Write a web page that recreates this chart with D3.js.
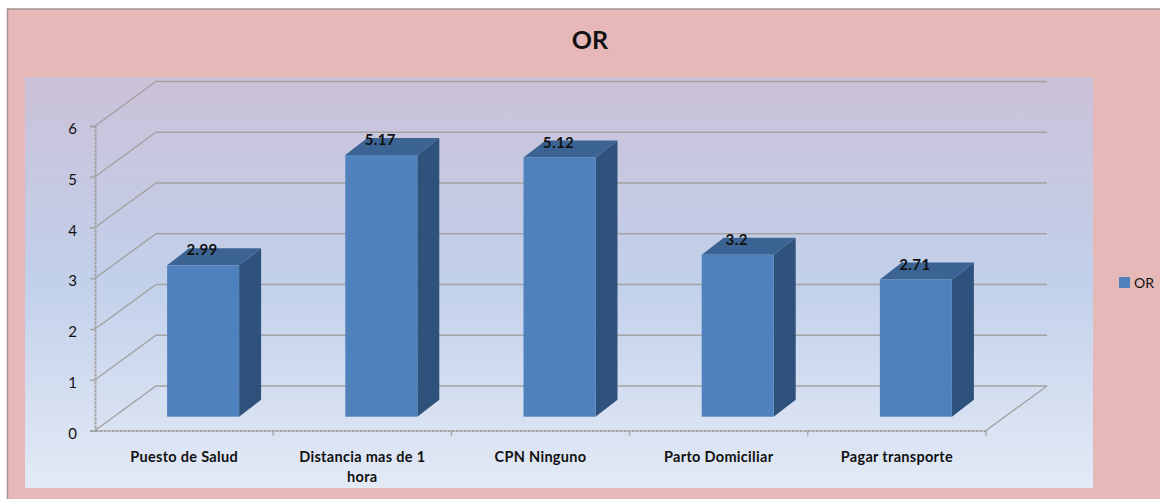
<!DOCTYPE html>
<html><head><meta charset="utf-8">
<script src="https://cdn.jsdelivr.net/npm/d3@7"></script>
<style>html,body{margin:0;padding:0;background:#fff}svg{display:block}text{font-family:Lato,Carlito,"Open Sans",sans-serif;fill:#111}</style>
</head><body><svg id="c" width="1160" height="499"></svg>
<script>
const categories = ["Puesto de Salud","Distancia mas de 1 hora","CPN Ninguno","Parto Domiciliar","Pagar transporte"];
const values = [2.99,5.17,5.12,3.2,2.71];
const valueLabels = ["2.99","5.17","5.12","3.2","2.71"];
const yTicks = [0,1,2,3,4,5,6];
const seriesName = "OR";

const svg = d3.select("#c");
const defs = svg.append("defs");
const g = defs.append("linearGradient").attr("id","bg").attr("x1",0).attr("x2",0).attr("y1",0).attr("y2",1);
[[0,"#cbc1d9"],[0.5,"#c2d0ea"],[1,"#e3eaf6"]].forEach(d=>g.append("stop").attr("offset",d[0]).attr("stop-color",d[1]));

svg.append("rect").attr("x",7.5).attr("y",9).attr("width",1160).attr("height",500).attr("fill","#e6b8b7").attr("stroke","#a39291").attr("stroke-width",1.5);
svg.append("rect").attr("x",25).attr("y",77).attr("width",1068).attr("height",411).attr("fill","url(#bg)");
svg.append("text").attr("x",590).attr("y",49).attr("text-anchor","middle").attr("font-size",25).attr("font-weight",700).text("OR");

const x = d3.scaleBand().domain(categories).range([95,986]);
const y = d3.scaleLinear().domain([0,6]).range([430.5,126]);
const yBar = d3.scaleLinear().domain([0,6]).range([416.7,113]);
const wall = {dx:61,dy:-44.5}, front = {dx:19}, depth = {dx:22,dy:-17}, barW = 72;
const gridColor = "#a3a3a3";

const grid = svg.append("g").attr("fill","none").attr("stroke",gridColor).attr("stroke-width",1.5);
grid.selectAll("path").data(yTicks).join("path")
  .attr("d",t=>{const p=d3.path();p.moveTo(x.range()[0],y(t));p.lineTo(x.range()[0]+wall.dx,y(t)+wall.dy);p.lineTo(x.range()[1]+wall.dx,y(t)+wall.dy);return p.toString();});
grid.append("path").attr("d",()=>{const p=d3.path();p.moveTo(x.range()[1],y(0));p.lineTo(x.range()[1]+wall.dx,y(0)+wall.dy);return p.toString();});

const axisL = d3.axisLeft(y).tickValues(yTicks).tickSize(5).tickPadding(13).tickFormat(d3.format("d"));
const gl = svg.append("g").attr("transform",`translate(${x.range()[0]},0)`).call(axisL);
const axisB = d3.axisBottom(x).tickValues([]).tickSize(0);
const gb = svg.append("g").attr("transform",`translate(0,${y(0)})`).call(axisB);
const tickPos = x.domain().map(c=>x(c)+x.bandwidth());
gb.selectAll("line.t").data(tickPos).join("line").attr("class","t").attr("x1",d=>d).attr("x2",d=>d).attr("y1",0).attr("y2",5);
[gl,gb].forEach(a=>{a.selectAll("path,line").attr("stroke",gridColor).attr("stroke-width",1.4);a.select(".domain").attr("stroke-width",2).attr("stroke-dasharray","3 1");});
gl.selectAll("text").attr("font-size",15).attr("dy","0.5em").attr("font-family","Lato");

const bars = svg.append("g").selectAll("g").data(categories.map((c,i)=>({c,v:values[i],l:valueLabels[i]}))).join("g");
const bx = d=>x(d.c)+x.bandwidth()/2+front.dx-barW/2;
bars.append("path").attr("fill","#2f527c").attr("d",d=>{const a=bx(d)+barW,t=yBar(d.v),b=yBar(0);return `M${a},${t}l${depth.dx},${depth.dy}L${a+depth.dx},${b+depth.dy}L${a},${b}Z`;});
bars.append("path").attr("fill","#3b6494").attr("d",d=>{const a=bx(d),t=yBar(d.v);return `M${a},${t}l${depth.dx},${depth.dy}h${barW}l${-depth.dx},${-depth.dy}Z`;});
bars.append("rect").attr("fill","#4f81bd").attr("x",bx).attr("y",d=>yBar(d.v)).attr("width",barW).attr("height",d=>yBar(0)-yBar(d.v));
bars.append("text").attr("x",d=>bx(d)+barW/2-1).attr("y",d=>yBar(d.v)-10).attr("text-anchor","middle").attr("font-size",15).attr("letter-spacing",0.4).attr("font-weight",700).text(d=>d.l);

const wrapW = 145;
const labels = svg.append("g").selectAll("text").data(categories).join("text")
  .attr("text-anchor","middle").attr("font-size",14.5).attr("letter-spacing",0.3).attr("font-weight",700).attr("x",c=>x(c)+x.bandwidth()/2).attr("y",462);
labels.each(function(c){
  const el=d3.select(this); let line=[],ts=el.append("tspan").attr("x",x(c)+x.bandwidth()/2);
  c.split(" ").forEach(w=>{line.push(w);ts.text(line.join(" "));
    if(ts.node().getComputedTextLength()>wrapW){line.pop();ts.text(line.join(" "));line=[w];
      ts=el.append("tspan").attr("x",x(c)+x.bandwidth()/2).attr("dy",20).text(w);}});
});

const lg = svg.append("g");
lg.append("rect").attr("x",1119).attr("y",277).attr("width",11).attr("height",11).attr("fill","#4f81bd");
lg.append("text").attr("x",1134).attr("y",288).attr("font-size",14).text(seriesName);
</script></body></html>
